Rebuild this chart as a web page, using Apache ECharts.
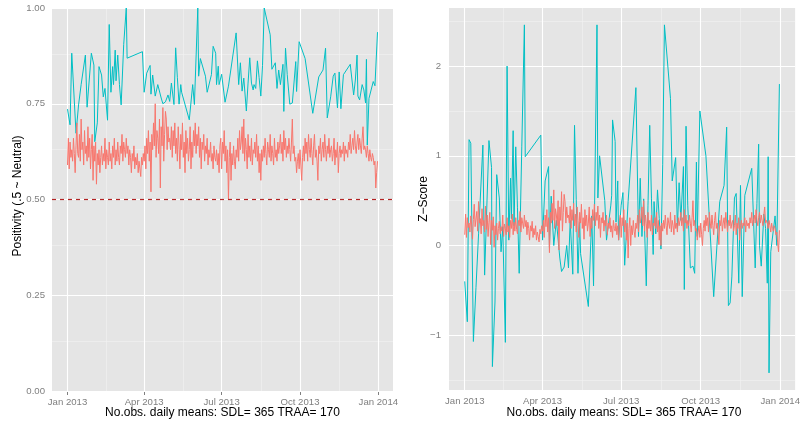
<!DOCTYPE html>
<html><head><meta charset="utf-8">
<script src="https://cdn.jsdelivr.net/npm/echarts@6/dist/echarts.min.js"></script>
<style>html,body{margin:0;padding:0;background:#fff}#c{width:803px;height:426px}</style>
</head><body><div id="c"></div>
<script>
// ---- tick / break arrays (day index from 2013-01-01) ----
const tickDays = [0, 90, 181, 273, 365];
const tickLabels = ['Jan 2013', 'Apr 2013', 'Jul 2013', 'Oct 2013', 'Jan 2014'];
const minorDays = [45, 135.5, 227, 319];
const posTicks = [0, 0.25, 0.5, 0.75, 1];
const posMinor = [0.125, 0.375, 0.625, 0.875];
const zTicks = [-1, 0, 1, 2];
const zMinor = [-1.5, -0.5, 0.5, 1.5, 2.5];
const neutralLine = 0.5;

// ---- SDL: daily means, one per day (day 0 .. 364) ----
const sdlPos = [
0.59,0.66,0.58,0.65,0.61,0.63,0.60,0.66,0.62,0.57,
0.64,0.70,0.62,0.61,0.67,0.60,0.71,0.63,0.65,0.59,
0.68,0.62,0.64,0.60,0.69,0.61,0.66,0.58,0.63,0.67,
0.55,0.64,0.60,0.65,0.54,0.62,0.59,0.63,0.57,0.61,
0.64,0.59,0.62,0.60,0.66,0.58,0.63,0.61,0.59,0.65,
0.60,0.62,0.58,0.64,0.61,0.66,0.59,0.63,0.60,0.65,
0.61,0.59,0.64,0.62,0.67,0.60,0.65,0.63,0.61,0.66,
0.62,0.64,0.59,0.63,0.61,0.57,0.62,0.60,0.64,0.58,
0.61,0.59,0.62,0.57,0.60,0.58,0.56,0.61,0.59,0.62,
0.60,0.64,0.58,0.66,0.62,0.68,0.60,0.65,0.52,0.67,
0.63,0.70,0.64,0.75,0.61,0.68,0.66,0.62,0.71,0.53,
0.69,0.64,0.74,0.60,0.67,0.73,0.71,0.63,0.69,0.65,
0.66,0.63,0.69,0.61,0.68,0.64,0.70,0.62,0.66,0.60,
0.69,0.64,0.58,0.67,0.63,0.70,0.61,0.65,0.57,0.68,
0.62,0.66,0.60,0.63,0.69,0.58,0.65,0.61,0.68,0.64,
0.70,0.62,0.67,0.64,0.69,0.61,0.66,0.58,0.65,0.63,
0.67,0.60,0.64,0.62,0.66,0.59,0.63,0.61,0.65,0.60,
0.62,0.58,0.64,0.61,0.60,0.63,0.59,0.62,0.57,0.64,
0.66,0.58,0.65,0.62,0.68,0.60,0.64,0.57,0.63,0.50,
0.61,0.65,0.55,0.62,0.59,0.64,0.60,0.58,0.63,0.61,
0.66,0.60,0.68,0.63,0.65,0.69,0.62,0.71,0.60,0.66,
0.63,0.58,0.67,0.61,0.64,0.60,0.66,0.59,0.63,0.62,
0.65,0.61,0.67,0.60,0.64,0.57,0.62,0.55,0.63,0.60,
0.64,0.61,0.66,0.62,0.59,0.65,0.63,0.61,0.67,0.60,
0.64,0.62,0.59,0.66,0.61,0.63,0.60,0.65,0.62,0.64,
0.67,0.62,0.65,0.60,0.68,0.63,0.66,0.61,0.64,0.62,
0.66,0.63,0.60,0.65,0.71,0.62,0.64,0.60,0.61,0.57,
0.60,0.62,0.58,0.63,0.59,0.55,0.61,0.64,0.60,0.66,
0.62,0.65,0.60,0.67,0.63,0.61,0.66,0.62,0.59,0.64,
0.67,0.61,0.63,0.60,0.55,0.64,0.62,0.66,0.60,0.63,
0.65,0.61,0.67,0.63,0.60,0.64,0.62,0.66,0.61,0.63,
0.64,0.60,0.62,0.66,0.59,0.63,0.61,0.65,0.57,0.62,
0.64,0.61,0.63,0.62,0.65,0.60,0.64,0.62,0.63,0.61,
0.65,0.63,0.67,0.62,0.64,0.66,0.63,0.68,0.64,0.62,
0.65,0.67,0.63,0.66,0.64,0.62,0.66,0.69,0.63,0.64,
0.63,0.61,0.64,0.62,0.60,0.63,0.61,0.60,0.62,0.61,
0.59,0.60,0.53,0.57,0.60
];
const sdlZ = [
0.12,0.35,0.09,0.31,0.20,0.25,0.15,0.33,0.23,0.07,
0.29,0.46,0.21,0.19,0.38,0.16,0.49,0.25,0.30,0.13,
0.41,0.22,0.28,0.15,0.44,0.18,0.34,0.10,0.26,0.37,
0.01,0.28,0.17,0.32,-0.02,0.22,0.12,0.25,0.06,0.19,
0.27,0.13,0.21,0.16,0.34,0.10,0.24,0.19,0.12,0.31,
0.15,0.22,0.09,0.28,0.19,0.35,0.12,0.26,0.16,0.31,
0.18,0.13,0.28,0.22,0.38,0.15,0.31,0.25,0.19,0.34,
0.21,0.28,0.12,0.26,0.19,0.06,0.22,0.16,0.27,0.09,
0.19,0.12,0.22,0.06,0.15,0.10,0.04,0.18,0.13,0.22,
0.16,0.28,0.09,0.34,0.21,0.40,0.15,0.31,-0.08,0.37,
0.25,0.47,0.28,0.62,0.19,0.41,0.34,0.22,0.50,-0.05,
0.43,0.28,0.60,0.16,0.37,0.57,0.49,0.25,0.43,0.31,
0.34,0.25,0.44,0.19,0.40,0.28,0.47,0.22,0.35,0.15,
0.43,0.28,0.09,0.37,0.25,0.46,0.19,0.31,0.07,0.40,
0.22,0.34,0.16,0.25,0.43,0.10,0.31,0.19,0.40,0.28,
0.46,0.22,0.37,0.28,0.44,0.19,0.34,0.09,0.31,0.25,
0.37,0.16,0.28,0.22,0.34,0.12,0.25,0.19,0.31,0.15,
0.22,0.09,0.28,0.19,0.16,0.25,0.12,0.22,0.06,0.28,
0.34,0.09,0.31,0.22,0.40,0.15,0.28,0.06,0.25,-0.14,
0.19,0.31,0.00,0.22,0.12,0.28,0.16,0.09,0.25,0.19,
0.34,0.15,0.40,0.25,0.31,0.43,0.22,0.50,0.16,0.34,
0.25,0.09,0.37,0.19,0.28,0.16,0.34,0.12,0.25,0.22,
0.31,0.19,0.37,0.15,0.28,0.06,0.22,0.00,0.25,0.16,
0.28,0.19,0.34,0.22,0.12,0.31,0.25,0.19,0.37,0.15,
0.28,0.22,0.12,0.34,0.19,0.25,0.15,0.31,0.22,0.28,
0.37,0.22,0.31,0.16,0.40,0.25,0.34,0.19,0.28,0.22,
0.34,0.25,0.15,0.31,0.50,0.22,0.28,0.16,0.19,0.06,
0.15,0.22,0.09,0.25,0.12,0.00,0.19,0.28,0.16,0.34,
0.22,0.31,0.15,0.37,0.25,0.19,0.34,0.22,0.12,0.28,
0.37,0.19,0.25,0.15,0.01,0.28,0.22,0.34,0.16,0.25,
0.31,0.19,0.37,0.25,0.15,0.28,0.22,0.34,0.19,0.25,
0.28,0.16,0.22,0.34,0.12,0.25,0.19,0.31,0.06,0.22,
0.28,0.19,0.25,0.22,0.31,0.15,0.28,0.22,0.25,0.19,
0.31,0.25,0.37,0.22,0.28,0.34,0.25,0.40,0.28,0.22,
0.31,0.37,0.25,0.34,0.28,0.22,0.34,0.43,0.25,0.28,
0.25,0.19,0.28,0.22,0.15,0.25,0.19,0.16,0.22,0.19,
0.12,0.15,0.03,-0.07,0.17
];

// ---- TRAA: days with observations, and their daily means ----
const traaDays = [0,3,5,7,10,13,16,21,23,28,31,32,35,37,40,42,44,47,49,51,
53,54,56,57,59,61,63,66,69,70,88,90,93,97,98,100,103,106,110,112,
115,118,120,122,125,127,129,131,133,134,143,147,149,153,154,156,162,164,169,170,
171,174,175,177,178,181,183,185,189,198,201,203,205,207,210,212,214,216,218,219,
221,223,225,227,229,231,238,240,244,246,248,250,253,254,256,258,261,264,266,268,
269,272,279,288,295,300,303,305,307,309,312,314,317,319,321,324,332,336,338,340,
341,343,346,348,350,351,352,354,359,361,364];
const traaPos = [0.736,0.695,0.882,0.880,0.673,0.747,0.800,0.877,0.741,0.882,0.851,0.651,0.700,0.847,0.825,0.768,0.790,0.707,0.957,0.780,
0.847,0.800,0.890,0.810,0.877,0.800,0.747,0.905,1.000,0.869,0.886,0.780,0.830,0.850,0.775,0.825,0.770,0.800,0.765,0.750,
0.755,0.773,0.756,0.804,0.748,0.896,0.818,0.749,0.800,0.780,0.708,0.800,0.748,1.000,0.822,0.868,0.822,0.780,0.826,0.830,
0.900,0.882,0.800,0.848,0.800,0.827,0.830,0.754,0.796,0.935,0.800,0.857,0.783,0.817,0.731,0.804,0.870,0.804,0.786,0.800,
0.790,0.862,0.818,0.770,0.850,1.000,0.930,0.840,0.857,0.790,0.838,0.800,0.853,0.730,0.895,0.826,0.749,0.752,0.748,0.860,
0.782,0.912,0.868,0.725,0.820,0.838,0.895,0.713,0.716,0.768,0.822,0.830,0.739,0.833,0.737,0.826,0.853,0.773,0.812,0.877,
0.770,0.760,0.800,0.786,0.752,0.866,0.642,0.764,0.808,0.797,0.937];
const traaZ = [-0.40,-0.85,1.18,1.14,-1.07,-0.47,0.13,1.12,-0.33,1.17,0.87,-1.35,-0.63,0.79,0.53,-0.07,0.21,-1.08,2.00,0.06,
0.75,0.30,1.28,0.22,1.10,0.42,-0.31,1.10,2.46,0.99,1.23,0.06,0.72,0.88,-0.02,0.55,0.00,0.28,-0.14,-0.29,
-0.24,0.00,-0.25,0.28,-0.32,1.34,0.51,-0.31,0.26,-0.09,-0.68,0.33,-0.45,2.46,0.53,1.00,0.50,0.06,0.45,0.56,
1.40,1.16,0.26,0.72,0.06,0.45,0.59,-0.22,0.49,1.76,0.10,0.75,0.10,0.52,-0.45,0.45,1.34,0.52,-0.10,0.49,
0.13,0.62,0.30,-0.04,0.90,2.46,1.64,0.72,0.98,0.19,0.70,0.28,0.88,-0.49,1.33,0.45,-0.25,-0.23,-0.31,0.93,
0.10,1.50,1.00,-0.57,0.49,0.67,1.32,-0.67,-0.64,-0.35,0.53,0.58,-0.42,0.67,-0.57,0.56,0.86,-0.25,0.47,1.13,
0.00,-0.23,0.35,0.19,-0.42,0.99,-1.42,-0.07,0.33,0.00,1.80];

// ---- build ----
const RED = '#F8766D', CYAN = '#00BFC4';
const FONT = '"Liberation Sans", Arial, Helvetica, sans-serif';
const sdlPosData = sdlPos.map((v, i) => [i, v]);
const sdlZData = sdlZ.map((v, i) => [i, v]);
const traaPosData = traaDays.map((d, i) => [d, traaPos[i]]);
const traaZData = traaDays.map((d, i) => [d, traaZ[i]]);

const majorStyle = { color: '#FFFFFF', width: 1.1, type: 'solid' };
const minorStyle = { color: '#F2F2F2', width: 0.6, type: 'solid' };
function gridLines(idx, yMajor, yMinor) {
  const data = [];
  minorDays.forEach(d => data.push({ xAxis: d, lineStyle: minorStyle }));
  yMinor.forEach(v => data.push({ yAxis: v, lineStyle: minorStyle }));
  tickDays.forEach(d => data.push({ xAxis: d, lineStyle: majorStyle }));
  yMajor.forEach(v => data.push({ yAxis: v, lineStyle: majorStyle }));
  return {
    type: 'line', xAxisIndex: idx, yAxisIndex: idx, data: [], z: 1, silent: true,
    markLine: { z: 1, silent: true, symbol: ['none', 'none'], label: { show: false },
      emphasis: { disabled: true }, animation: false, data: data }
  };
}
function xAxisCfg(idx) {
  return {
    gridIndex: idx, type: 'value', min: -18.2, max: 382.2,
    splitLine: { show: false }, axisLine: { show: false },
    axisTick: { show: true, customValues: tickDays, length: 4, lineStyle: { color: '#7F7F7F', width: 1 } },
    axisLabel: { customValues: tickDays, formatter: v => tickLabels[tickDays.indexOf(v)],
      color: '#7F7F7F', fontSize: 9.6, fontFamily: FONT, margin: 6 }
  };
}
const lineS = (idx, data, color, z) => ({
  type: 'line', xAxisIndex: idx, yAxisIndex: idx, data: data, showSymbol: false, symbol: 'none',
  lineStyle: { color: color, width: 1 }, itemStyle: { color: color }, z: z, silent: true
});
const dashStyle = { color: '#B22222', width: 1.2, type: [4, 4], opacity: 1 };

const option = {
  animation: false,
  backgroundColor: '#FFFFFF',
  grid: [
    { left: 52, top: 8, width: 341, height: 383, show: true, backgroundColor: '#E5E5E5', borderWidth: 0, containLabel: false },
    { left: 449, top: 8, width: 350, height: 382, show: true, backgroundColor: '#E5E5E5', borderWidth: 0, containLabel: false }
  ],
  xAxis: [xAxisCfg(0), xAxisCfg(1)],
  yAxis: [
    { gridIndex: 0, type: 'value', min: 0, max: 1,
      splitLine: { show: false }, axisLine: { show: false },
      axisTick: { show: true, customValues: posTicks, length: 4, lineStyle: { color: '#7F7F7F' } },
      axisLabel: { customValues: posTicks, formatter: v => v.toFixed(2), color: '#7F7F7F', fontSize: 9.6, fontFamily: FONT, margin: 7 } },
    { gridIndex: 1, type: 'value', min: -1.611, max: 2.648,
      splitLine: { show: false }, axisLine: { show: false },
      axisTick: { show: true, customValues: zTicks, length: 4, lineStyle: { color: '#7F7F7F' } },
      axisLabel: { customValues: zTicks, formatter: v => (v < 0 ? '\u2212' + Math.abs(v) : String(v)), color: '#7F7F7F', fontSize: 9.6, fontFamily: FONT, margin: 8 } }
  ],
  series: [
    gridLines(0, posTicks, posMinor),
    gridLines(1, zTicks, zMinor),
    lineS(0, traaPosData, CYAN, 9),
    lineS(0, sdlPosData, RED, 10),
    lineS(1, traaZData, CYAN, 9),
    lineS(1, sdlZData, RED, 10),
    { type: 'line', xAxisIndex: 0, yAxisIndex: 0, data: [], z: 20, silent: true,
      color: '#B22222', itemStyle: { color: '#B22222' }, lineStyle: { color: '#B22222' },
      markLine: { z: 20, silent: true, symbol: ['none', 'none'], label: { show: false }, animation: false,
        lineStyle: dashStyle,
        data: [{ yAxis: neutralLine, lineStyle: dashStyle }] } }
  ],
  graphic: [
    { type: 'text', x: 222.5, y: 413, style: { text: 'No.obs. daily means: SDL= 365 TRAA= 170', align: 'center', verticalAlign: 'middle', fontSize: 12, fontFamily: FONT, fill: '#000' } },
    { type: 'text', x: 624, y: 413, style: { text: 'No.obs. daily means: SDL= 365 TRAA= 170', align: 'center', verticalAlign: 'middle', fontSize: 12, fontFamily: FONT, fill: '#000' } },
    { type: 'text', x: 18, y: 196, rotation: Math.PI / 2, style: { text: 'Positivity (.5 ~ Neutral)', align: 'center', verticalAlign: 'middle', fontSize: 12, fontFamily: FONT, fill: '#000' } },
    { type: 'text', x: 424, y: 199, rotation: Math.PI / 2, style: { text: 'Z\u2212Score', align: 'center', verticalAlign: 'middle', fontSize: 12, fontFamily: FONT, fill: '#000' } }
  ]
};
const chart = echarts.init(document.getElementById('c'), null, { renderer: 'canvas' });
chart.setOption(option);
</script>
</body></html>
